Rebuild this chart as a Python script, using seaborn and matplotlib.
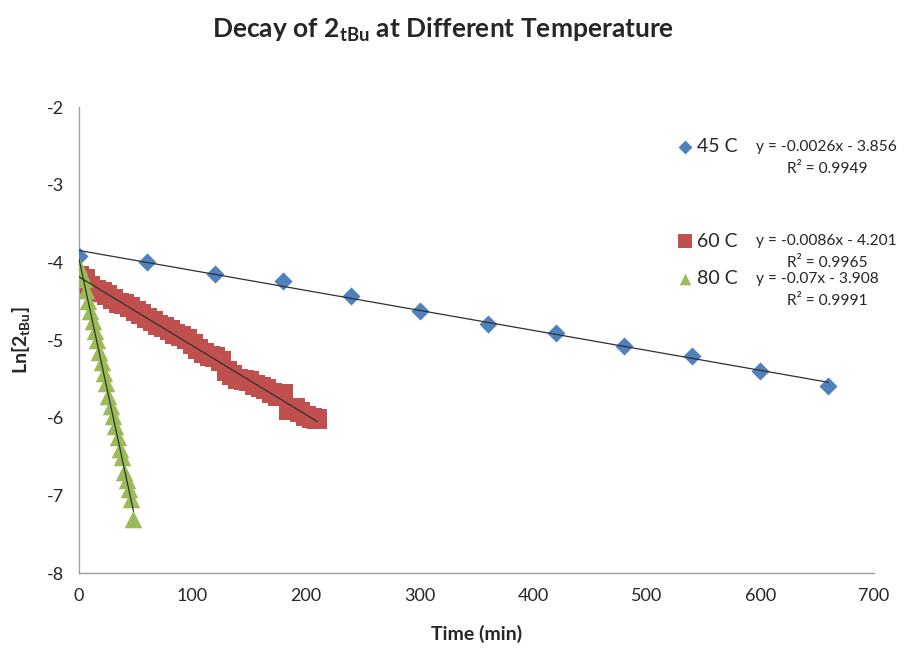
import numpy as np
import pandas as pd
import matplotlib
matplotlib.use("Agg")
import matplotlib.pyplot as plt
import seaborn as sns

# ---- data ----
t45 = [0, 60, 120, 180, 240, 300, 360, 420, 480, 540, 600, 660]
y45 = [-3.92, -4.00, -4.15, -4.24, -4.43, -4.63, -4.79, -4.91, -5.07, -5.21, -5.40, -5.59]

t60 = [0, 5, 10, 15, 20, 25, 30, 35, 40, 45, 50, 55, 60, 65, 70, 75, 80, 85, 90, 95,
       100, 105, 110, 115, 120, 125, 130, 135, 140, 145, 150, 155, 160, 165, 170, 175,
       180, 185, 190, 195, 200, 205, 210]
y60 = [-4.17, -4.22, -4.30, -4.35, -4.38, -4.42, -4.47, -4.52, -4.53, -4.57, -4.62, -4.66,
       -4.72, -4.75, -4.80, -4.83, -4.87, -4.92, -4.95, -4.99, -5.05, -5.12, -5.16, -5.20,
       -5.22, -5.27, -5.40, -5.45, -5.50, -5.52, -5.53, -5.58, -5.60, -5.63, -5.68, -5.72,
       -5.70, -5.90, -5.88, -5.92, -5.98, -6.00, -6.01]

t80 = [0, 2, 4, 6, 8, 10, 12, 14, 16, 18, 20, 22, 24, 26, 28, 30, 32, 34, 36, 38, 40,
       42, 44, 46, 48]
y80 = [-4.05, -4.12, -4.22, -4.35, -4.50, -4.62, -4.75, -4.88, -5.00, -5.15, -5.28, -5.43,
       -5.55, -5.72, -5.85, -5.98, -6.10, -6.25, -6.40, -6.50, -6.70, -6.80, -6.92, -7.05,
       -7.30]

series_names = ["45 C", "60 C", "80 C"]
equations = ["y = -0.0026x - 3.856", "y = -0.0086x - 4.201", "y = -0.07x - 3.908"]
r2_labels = ["R² = 0.9949", "R² = 0.9965", "R² = 0.9991"]
colors = ["#4F81BD", "#C0504D", "#9BBB59"]
markers = ["D", "s", "^"]
msizes = [85, 210, 160]

x_ticks = [0, 100, 200, 300, 400, 500, 600, 700]
y_ticks = [-8, -7, -6, -5, -4, -3, -2]

# ---- plotting ----
sns.set_style("white")
plt.rcParams["font.family"] = ["Lato", "DejaVu Sans"]
plt.rcParams["mathtext.fontset"] = "custom"
plt.rcParams["mathtext.rm"] = "Lato"
plt.rcParams["mathtext.bf"] = "Lato:bold"

fig = plt.figure(figsize=(9.14, 6.49), dpi=100)
ax = fig.add_axes([0.0864, 0.117, 0.8696, 0.718])

data = [(t45, y45), (t60, y60), (t80, y80)]
for (tx, ty), name, c, m, s in zip(data, series_names, colors, markers, msizes):
    df = pd.DataFrame({"t": tx, "y": ty})
    sns.scatterplot(data=df, x="t", y="y", ax=ax, color=c, marker=m, s=s,
                    edgecolor=c, linewidth=0, zorder=3)
    sns.regplot(data=df, x="t", y="y", ax=ax, scatter=False, ci=None,
                line_kws=dict(color="#303030", lw=0.9, zorder=4), truncate=True)

ax.set_xlim(0, 700)
ax.set_ylim(-8, -2)
ax.set_xticks(x_ticks)
ax.set_yticks(y_ticks)
ax.set_xticklabels([str(v) for v in x_ticks], fontsize=13)
ax.set_yticklabels([str(v) for v in y_ticks], fontsize=13)
ax.tick_params(direction="out", length=5, width=1, color="#A0A0A0", pad=6)

for sp in ["top", "right"]:
    ax.spines[sp].set_visible(False)
for sp in ["left", "bottom"]:
    ax.spines[sp].set_color("#A0A0A0")
    ax.spines[sp].set_linewidth(1)

ax.set_xlabel("Time (min)", fontsize=14, fontweight="bold")
ax.set_ylabel(r"Ln[2$_{\mathbf{tBu}}$]", fontsize=14, fontweight="bold")
ax.xaxis.set_label_coords(0.5, -0.112)
ax.yaxis.set_label_coords(-0.058, 0.5)

fig.text(443 / 914, 1 - 30 / 649, r"Decay of 2$_{\mathbf{tBu}}$ at Different Temperature",
         fontsize=19, fontweight="bold", ha="center", va="center")

# legend with trendline equations
leg_y = [147, 241, 279]
for i in range(3):
    yy = 1 - leg_y[i] / 649
    ax.scatter([685 / 914], [yy], transform=fig.transFigure, marker=markers[i],
               color=colors[i], s=[50, 90, 70][i], linewidth=0, clip_on=False, zorder=5)
    fig.text(697 / 914, yy, series_names[i], fontsize=14, ha="left", va="center")
    fig.text(756 / 914, yy, equations[i], fontsize=11.2, ha="left", va="center")
    fig.text(868 / 914, 1 - (leg_y[i] + 22) / 649, r2_labels[i], fontsize=11.2,
             ha="right", va="center")

fig.savefig("out.png", dpi=100)
